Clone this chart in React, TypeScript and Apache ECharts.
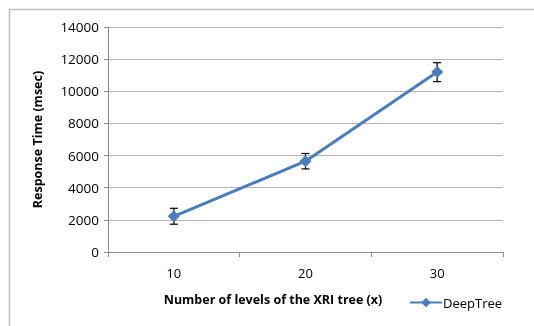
import React, { useEffect, useRef } from "react";
import * as echarts from "echarts";

const categories = ["10", "20", "30"];
const seriesName = "DeepTree";
const values = [2220, 5650, 11200];
const errLow = [1730, 5170, 10600];
const errHigh = [2720, 6130, 11780];
const yTicks = { min: 0, max: 14000, interval: 2000 };

export default function App() {
  const ref = useRef<HTMLDivElement>(null);
  useEffect(() => {
    const chart = echarts.init(ref.current!, null, { renderer: "svg" });
    const font = "'Open Sans', 'Noto Sans', sans-serif";
    const blue = "#4A7EBB";
    chart.setOption({
      animation: false,
      textStyle: { fontFamily: font },
      graphic: [
        {
          type: "rect",
          shape: { x: 9.5, y: 9.5, width: 700, height: 500 },
          style: { fill: "none", stroke: "#bdbdbd", lineWidth: 1.5 },
          silent: true,
        },
        {
          type: "text",
          x: 273,
          y: 299,
          style: {
            text: "Number of levels of the XRI tree (x)",
            fontSize: 12.5,
            fontWeight: "bold",
            fontFamily: font,
            fill: "#000",
            align: "center",
            verticalAlign: "middle",
          },
          silent: true,
        },
      ],
      grid: { left: 108, top: 27, width: 395, height: 225 },
      xAxis: {
        type: "category",
        data: categories,
        boundaryGap: true,
        axisLine: { lineStyle: { color: "#8c8c8c", width: 1 } },
        axisTick: { show: true, length: 5, inside: false, lineStyle: { color: "#8c8c8c" } },
        axisLabel: { fontSize: 13, color: "#000", margin: 14, fontFamily: font },
        splitLine: { show: false },
      },
      yAxis: {
        type: "value",
        min: yTicks.min,
        max: yTicks.max,
        interval: yTicks.interval,
        name: "Response Time (msec)",
        nameLocation: "middle",
        nameGap: 64,
        nameTextStyle: { fontWeight: "bold", fontSize: 12.5, color: "#000", fontFamily: font },
        axisLine: { show: true, lineStyle: { color: "#8c8c8c", width: 1 } },
        axisTick: { show: true, length: 4, lineStyle: { color: "#8c8c8c" } },
        axisLabel: {
          fontSize: 13.5,
          color: "#000",
          margin: 9,
          fontFamily: font,
          formatter: (v: number) => String(v),
        },
        splitLine: { show: true, lineStyle: { color: "#b4b4b4", width: 1 } },
      },
      legend: {
        show: true,
        left: 404,
        top: 291,
        itemWidth: 32,
        itemHeight: 12,
        itemGap: 4,
        textStyle: { fontSize: 13, color: "#000", fontFamily: font, padding: [0, 0, 0, -4] },
        data: [seriesName],
      },
      series: [
        {
          name: seriesName,
          type: "line",
          data: values,
          symbol: "diamond",
          symbolSize: 12,
          lineStyle: { color: blue, width: 3 },
          itemStyle: { color: blue },
          z: 3,
        },
        {
          type: "custom",
          name: "err",
          data: categories.map((_, i) => [i, errLow[i], errHigh[i]]),
          renderItem: (params: any, api: any) => {
            const x = api.value(0);
            const lo = api.coord([x, api.value(1)]);
            const hi = api.coord([x, api.value(2)]);
            const w = 4;
            const st = { stroke: "#000", lineWidth: 1.2 };
            return {
              type: "group",
              children: [
                { type: "line", shape: { x1: lo[0], y1: lo[1], x2: hi[0], y2: hi[1] }, style: st },
                { type: "line", shape: { x1: lo[0] - w, y1: lo[1], x2: lo[0] + w, y2: lo[1] }, style: st },
                { type: "line", shape: { x1: hi[0] - w, y1: hi[1], x2: hi[0] + w, y2: hi[1] }, style: st },
              ],
            };
          },
          z: 2,
          silent: true,
        },
      ],
    });
    return () => chart.dispose();
  }, []);
  return <div ref={ref} style={{ position: "fixed", left: 0, top: 0, width: 534, height: 326 }} />;
}
